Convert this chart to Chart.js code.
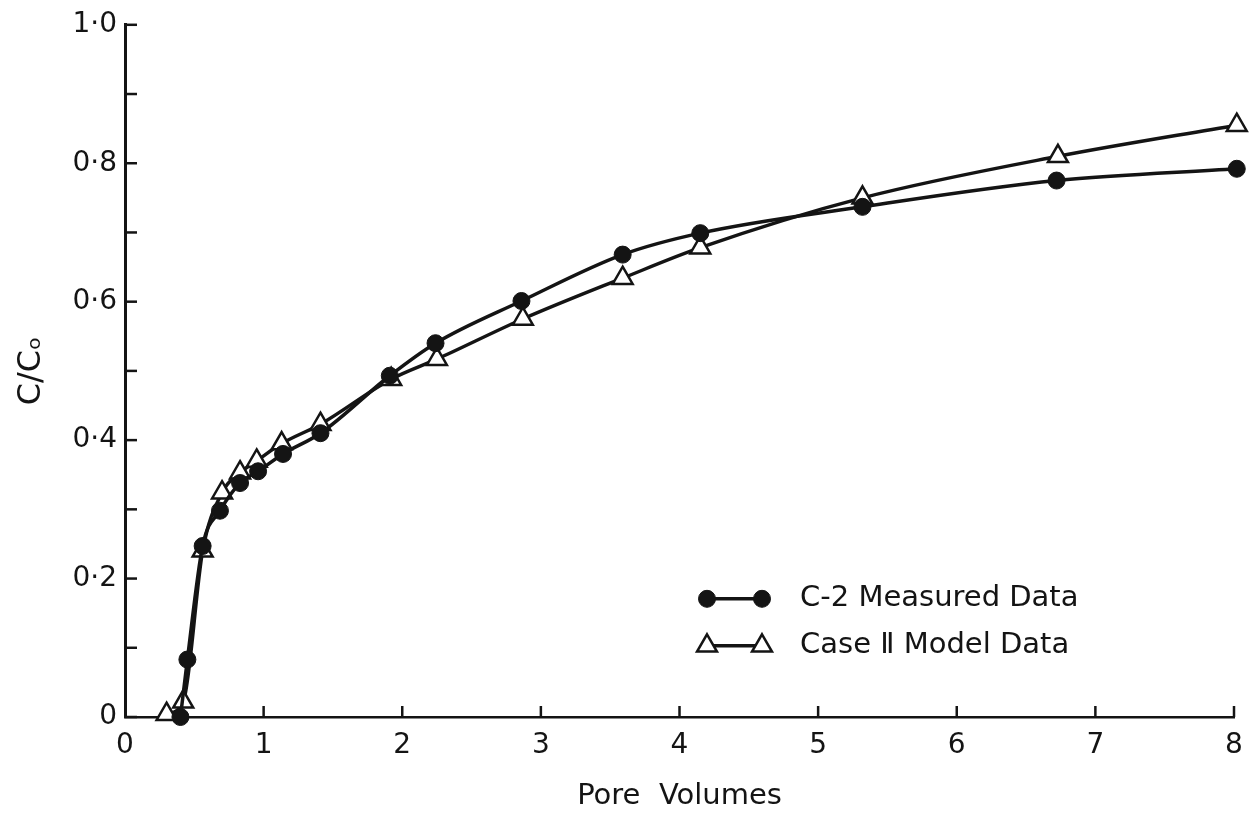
<!DOCTYPE html>
<html>
<head>
<meta charset="utf-8">
<script src="https://cdn.jsdelivr.net/npm/chart.js@4.4.1/dist/chart.umd.min.js"></script>
<style>
  html, body { margin: 0; padding: 0; background: #fff; }
  #wrap { width: 1249px; height: 818px; }
</style>
</head>
<body>
<div id="wrap"><canvas id="breakChart"></canvas></div>
<script>
// pore volumes / relative concentration
const pvMeasured = [0.40, 0.45, 0.56, 0.685, 0.83, 0.96, 1.14, 1.41, 1.91, 2.24, 2.86, 3.59, 4.15, 5.32, 6.72, 8.02];
const ccMeasured = [0.0, 0.083, 0.247, 0.298, 0.338, 0.355, 0.38, 0.41, 0.493, 0.540, 0.601, 0.668, 0.699, 0.737, 0.775, 0.792];

const pvModel = [0.30, 0.42, 0.56, 0.70, 0.83, 0.95, 1.13, 1.41, 1.92, 2.25, 2.87, 3.59, 4.15, 5.32, 6.73, 8.02];
const ccModel = [0.004, 0.022, 0.24, 0.324, 0.353, 0.37, 0.395, 0.423, 0.488, 0.517, 0.575, 0.634, 0.678, 0.75, 0.81, 0.855];

const xTicks = [0, 1, 2, 3, 4, 5, 6, 7, 8];
const seriesLabels = ['C-2 Measured Data', 'Case \u2161 Model Data'];

const ink = '#141414';
const font = 'DejaVu Sans';

function toPoints(xs, ys) {
  return xs.map((x, i) => ({ x: x, y: ys[i] }));
}

// short tick marks pointing into the plot
const innerTicks = {
  id: 'innerTicks',
  afterDraw(chart) {
    const ctx = chart.ctx;
    const xs = chart.scales.x, ys = chart.scales.y;
    ctx.save();
    ctx.strokeStyle = ink;
    ctx.lineWidth = 2.5;
    ys.ticks.forEach(t => {
      const py = ys.getPixelForValue(t.value);
      ctx.beginPath();
      ctx.moveTo(ys.right, py);
      ctx.lineTo(ys.right + 12, py);
      ctx.stroke();
    });
    xs.ticks.forEach(t => {
      if (t.value === 0) return;
      const px = xs.getPixelForValue(t.value);
      ctx.beginPath();
      ctx.moveTo(px, xs.top);
      ctx.lineTo(px, xs.top - 11);
      ctx.stroke();
    });
    ctx.restore();
  }
};

// legend sitting inside the plot, lower right
const boxLegend = {
  id: 'boxLegend',
  afterDraw(chart) {
    const ctx = chart.ctx;
    const area = chart.chartArea;
    const x0 = area.left + 582, x1 = area.left + 637, tx = area.left + 675;
    const rows = [area.top + 574, area.top + 621];
    ctx.save();
    chart.data.datasets.forEach((ds, i) => {
      const y = rows[i];
      ctx.strokeStyle = ink;
      ctx.lineWidth = 3.5;
      ctx.beginPath();
      ctx.moveTo(x0, y);
      ctx.lineTo(x1, y);
      ctx.stroke();
      const opts = {
        pointStyle: ds.pointStyle,
        radius: ds.pointRadius,
        borderWidth: ds.pointBorderWidth
      };
      ctx.fillStyle = ds.pointBackgroundColor;
      ctx.strokeStyle = ds.pointBorderColor;
      ctx.lineWidth = ds.pointBorderWidth;
      Chart.helpers.drawPoint(ctx, opts, x0, y);
      Chart.helpers.drawPoint(ctx, opts, x1, y);
      ctx.fillStyle = ink;
      ctx.font = '29px "' + font + '"';
      ctx.textBaseline = 'middle';
      ctx.textAlign = 'left';
      ctx.fillText(ds.label, tx, y);
    });
    ctx.restore();
  }
};

new Chart(document.getElementById('breakChart').getContext('2d'), {
  type: 'line',
  data: {
    datasets: [
      {
        label: seriesLabels[0],
        data: toPoints(pvMeasured, ccMeasured),
        borderColor: ink,
        borderWidth: 3.5,
        pointStyle: 'circle',
        pointRadius: 8.5,
        pointBorderWidth: 1,
        pointBackgroundColor: ink,
        pointBorderColor: ink,
        cubicInterpolationMode: 'monotone',
        clip: false
      },
      {
        label: seriesLabels[1],
        data: toPoints(pvModel, ccModel),
        borderColor: ink,
        borderWidth: 3.5,
        pointStyle: 'triangle',
        pointRadius: 11.5,
        pointBorderWidth: 2.5,
        pointBackgroundColor: '#fff',
        pointBorderColor: ink,
        cubicInterpolationMode: 'monotone',
        clip: false
      }
    ]
  },
  options: {
    responsive: true,
    maintainAspectRatio: false,
    animation: false,
    layout: { padding: { top: 24, right: 0, left: 0, bottom: 0 } },
    plugins: {
      legend: { display: false },
      tooltip: { enabled: false }
    },
    scales: {
      x: {
        type: 'linear',
        min: 0,
        max: 8,
        afterBuildTicks: s => { s.ticks = xTicks.map(v => ({ value: v })); },
        afterFit: s => { s.height = 101; s.paddingRight = 15; },
        grid: { display: false, drawTicks: false },
        border: { display: true, color: ink, width: 2.5 },
        ticks: {
          color: ink,
          padding: 12,
          font: { family: font, size: 28 },
          callback: v => String(v)
        },
        title: {
          display: true,
          text: 'Pore  Volumes',
          color: ink,
          padding: { top: 0, bottom: 4 },
          font: { family: font, size: 29 }
        }
      },
      y: {
        min: 0,
        max: 1.0,
        afterFit: s => { s.width = 125; },
        grid: { display: false, drawTicks: false },
        border: { display: true, color: ink, width: 3 },
        ticks: {
          stepSize: 0.1,
          color: ink,
          padding: 8,
          font: { family: font, size: 28 },
          callback: v => {
            const k = Math.round(v * 10);
            if (k === 0) return '0';
            if (k % 2 !== 0) return '';
            return (k / 10).toFixed(1).replace('.', '\u00b7');
          }
        },
        title: {
          display: true,
          text: 'C/C\u2092',
          color: ink,
          padding: { top: 12, bottom: 0 },
          font: { family: font, size: 32 }
        }
      }
    }
  },
  plugins: [innerTicks, boxLegend]
});
</script>
</body>
</html>
